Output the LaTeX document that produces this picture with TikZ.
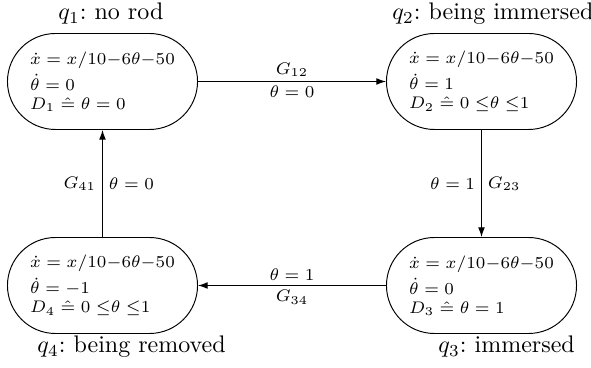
\documentclass[tikz,border=0pt]{standalone}
\usetikzlibrary{shapes.misc,arrows.meta}
\begin{document}
\begin{tikzpicture}[x=0.4167pt,y=-0.4167pt,
  statebox/.style={draw,rounded rectangle,minimum width=79.2pt,minimum height=40pt,
    inner sep=0pt,align=left,font=\fontsize{7.4}{8.8}\selectfont},
  title/.style={anchor=base west,inner sep=0pt,font=\normalsize\frenchspacing},
  conn/.style={draw,-{Latex[length=4pt,width=2.8pt]},line width=0.4pt},
  elab/.style={font=\fontsize{7.4}{8.8}\selectfont,inner sep=1.8pt}]
\useasboundingbox (0,0) rectangle (591,368);
\node[statebox] (b1) at (102.5,81.5) {$\dot{x} = x/10{-}6\theta{-}50$\\[2pt]
  $\dot{\theta} = 0$\\[-0.9pt] $D_1 \mathrel{\hat{=}} \theta = 0$};
\node[statebox] (b2) at (481.5,81.5) {$\dot{x} = x/10{-}6\theta{-}50$\\[2pt]
  $\dot{\theta} = 1$\\[-0.9pt] $D_2 \mathrel{\hat{=}} 0 \;{\leq}\theta\;{\leq}1$};
\node[statebox] (b3) at (481.5,285.5) {$\dot{x} = x/10{-}6\theta{-}50$\\[2pt]
  $\dot{\theta} = 0$\\[-0.9pt] $D_3 \mathrel{\hat{=}} \theta = 1$};
\node[statebox] (b4) at (102.5,285.5) {$\dot{x} = x/10{-}6\theta{-}50$\\[2pt]
  $\dot{\theta} = -1$\\[-0.9pt] $D_4 \mathrel{\hat{=}} 0 \;{\leq}\theta\;{\leq}1$};
\node[title] (t1) at (58,19.5) {$q_1$: no rod};
\node[title] (t2) at (392,19.5) {$q_2$: being immersed};
\node[title] (t3) at (438,352.5) {$q_3$: immersed};
\node[title] (t4) at (37,352.5) {$q_4$: being removed};
\draw[conn] (b1.east) -- (b2.west)
  node[elab,midway,above] {$G_{12}$} node[elab,midway,below] {$\theta = 0$};
\draw[conn] (b2.south) -- (b3.north)
  node[elab,midway,left,inner sep=2.5pt] {$\theta = 1$} node[elab,midway,right,inner sep=2.5pt] {$G_{23}$};
\draw[conn] (b3.west) -- (b4.east)
  node[elab,midway,above] {$\theta = 1$} node[elab,midway,below] {$G_{34}$};
\draw[conn] (b4.north) -- (b1.south)
  node[elab,midway,left,inner sep=2.5pt] {$G_{41}$} node[elab,midway,right,inner sep=2.5pt] {$\theta = 0$};
\end{tikzpicture}
\end{document}
